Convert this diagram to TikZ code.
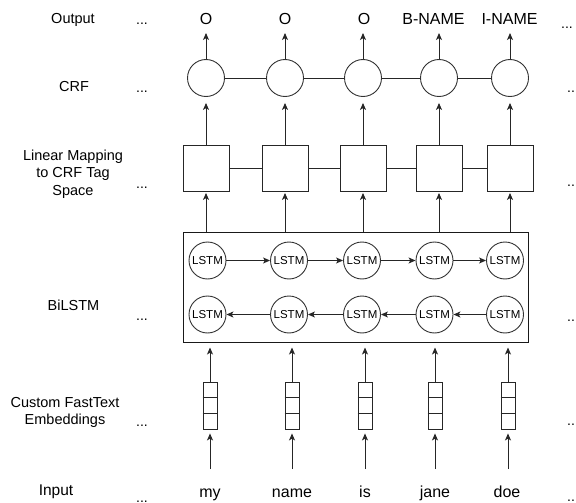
\documentclass[tikz,border=0pt]{standalone}
\usepackage{fontspec}
\setmainfont{Liberation Sans}
\usetikzlibrary{arrows.meta,calc}
\begin{document}
\begin{tikzpicture}[x=1pt,y=-1pt,
  line width=0.9pt,
  >={Stealth[length=7pt,width=6pt,inset=1.8pt]},
  lbl/.style={font=\fontsize{14.5}{17.2}\selectfont, align=center, inner sep=0pt},
  word/.style={font=\fontsize{16}{19}\selectfont, anchor=base, inner sep=0pt},
  dots/.style={font=\fontsize{14}{17}\selectfont, anchor=base, inner sep=0pt},
  crfnode/.style={circle, draw=black!80, minimum size=37pt, inner sep=0pt},
  sqnode/.style={rectangle, draw=black!85, minimum size=46pt, inner sep=0pt},
  lstmnode/.style={circle, draw=black!80, minimum size=37pt, inner sep=0pt, font=\fontsize{11.5}{13}\selectfont},
  embnode/.style={rectangle, draw=black!85, minimum width=14pt, minimum height=47pt, inner sep=0pt},
  conn/.style={draw=black!85},
  arr/.style={draw=black!85, ->},
]
\useasboundingbox (0,0) rectangle (576,503);

% left labels
\node[lbl, anchor=base] (lout) at (73,23.3) {Output};
\node[lbl, anchor=base] (lcrf) at (74,91.5) {CRF};
\node[lbl] (llin) at (73,174.2) {Linear Mapping\\to CRF Tag\\Space};
\node[lbl, anchor=base] (lbi) at (73.5,310) {BiLSTM};
\node[lbl] (lemb) at (65,412.1) {Custom FastText\\Embeddings};
\node[lbl, anchor=base, font=\fontsize{15.5}{18}\selectfont] (lin) at (56,495) {Input};

% dots left
\node[dots] (dl1) at (142,24.5) {...};
\node[dots] (dl2) at (142,92.5) {...};
\node[dots] (dl3) at (142,188.5) {...};
\node[dots] (dl4) at (142,320) {...};
\node[dots] (dl5) at (142,426.5) {...};
\node[dots] (dl6) at (142,502) {...};
% dots right
\node[dots] (dr1) at (567,28.5) {...};
\node[dots] (dr2) at (573,92.5) {...};
\node[dots] (dr3) at (573,186.5) {...};
\node[dots] (dr4) at (573,321) {...};
\node[dots] (dr5) at (573,425) {...};
\node[dots] (dr6) at (573,501.5) {...};

% output labels
\node[word] (o1) at (206,25) {O};
\node[word] (o2) at (285,25) {O};
\node[word] (o3) at (364,25) {O};
\node[word] (o4) at (433.5,25) {B-NAME};
\node[word] (o5) at (509.5,25) {I-NAME};

% CRF circles
\node[crfnode] (c1) at (206,78) {};
\node[crfnode] (c2) at (285,78) {};
\node[crfnode] (c3) at (363,78) {};
\node[crfnode] (c4) at (439,78) {};
\node[crfnode] (c5) at (510,78) {};

% squares
\node[sqnode] (s1) at (206,168) {};
\node[sqnode] (s2) at (285,168) {};
\node[sqnode] (s3) at (363,168) {};
\node[sqnode] (s4) at (439,168) {};
\node[sqnode] (s5) at (510,168) {};

% BiLSTM box
\node[rectangle, draw=black!90, line width=1pt, minimum width=345.5pt, minimum height=110pt, inner sep=0pt] (bil) at (355.75,287) {};

% LSTM cells
\node[lstmnode] (f1) at (207.5,260.5) {LSTM};
\node[lstmnode] (f2) at (289,260.5) {LSTM};
\node[lstmnode] (f3) at (362,260.5) {LSTM};
\node[lstmnode] (f4) at (434.5,260.5) {LSTM};
\node[lstmnode] (f5) at (505,260.5) {LSTM};
\node[lstmnode] (b1) at (207.5,314.5) {LSTM};
\node[lstmnode] (b2) at (289,314.5) {LSTM};
\node[lstmnode] (b3) at (362,314.5) {LSTM};
\node[lstmnode] (b4) at (434.5,314.5) {LSTM};
\node[lstmnode] (b5) at (505,314.5) {LSTM};

% embeddings
\foreach \i/\x in {1/210,2/292,3/365,4/435,5/508}{
  \node[embnode] (e\i) at (\x,405.5) {};
  \draw[conn] ($(e\i.north west)!1/3!(e\i.south west)$) -- ($(e\i.north east)!1/3!(e\i.south east)$);
  \draw[conn] ($(e\i.north west)!2/3!(e\i.south west)$) -- ($(e\i.north east)!2/3!(e\i.south east)$);
}

% input words
\node[word] (w1) at (210,497) {my};
\node[word] (w2) at (292,497) {name};
\node[word] (w3) at (365,497) {is};
\node[word] (w4) at (435,497) {jane};
\node[word] (w5) at (507,497) {doe};

% horizontal connectors
\foreach \a/\b in {1/2,2/3,3/4,4/5}{
  \draw[conn] (c\a.east) -- (c\b.west);
  \draw[conn] (s\a.east) -- (s\b.west);
  \draw[arr] (f\a.east) -- (f\b.west);
  \draw[arr] (b\b.west) -- (b\a.east);
}

% vertical arrows
\foreach \i in {1,...,5}{
  \draw[arr, shorten >=8pt] (c\i.north) -- (c\i.north |- o\i.base);
  \draw[arr, shorten >=6pt] (s\i.north) -- (c\i.south);
  \draw[arr, shorten >=1.5pt] (s\i.south |- bil.north) -- (s\i.south);
  \draw[arr, shorten >=5pt] (e\i.north) -- (e\i.north |- bil.south);
  \draw[arr, shorten <=28pt, shorten >=4pt] (w\i.base -| e\i.south) -- (e\i.south);
}
\end{tikzpicture}
\end{document}
